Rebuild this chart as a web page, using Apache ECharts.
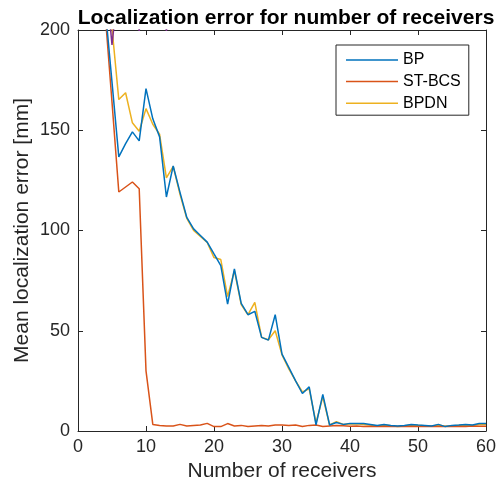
<!DOCTYPE html>
<html>
<head>
<meta charset="utf-8">
<script src="https://cdn.jsdelivr.net/npm/echarts@6/dist/echarts.min.js"></script>
<style>
  html, body { margin: 0; padding: 0; background: #fff; }
  #chart { width: 503px; height: 489px; }
</style>
</head>
<body>
<div id="chart"></div>
<script>
// Number of receivers (x values)
const receivers = [4, 5, 6, 7, 8, 9, 10, 11, 12, 13, 14, 15, 16, 17, 18, 19, 20,
  21, 22, 23, 24, 25, 26, 27, 28, 29, 30, 31, 32, 33, 34, 35, 36, 37, 38, 39, 40,
  41, 42, 43, 44, 45, 46, 47, 48, 49, 50, 51, 52, 53, 54, 55, 56, 57, 58, 59, 60];

// Mean localization error [mm] per method
const bp = [211, 174, 136.7, 143.3, 149.2, 144.7, 170.8, 155.7, 146.7, 116.7, 132.2, 119, 106.5, 100.8, 97.5, 94.2, 88.3,
  82.5, 63.3, 80.8, 63.7, 58, 59.7, 46.7, 45.3, 58, 38.3, 31.7, 25, 18.7, 22, 3, 18.3, 3, 4.2, 3.3, 3.8,
  3.8, 3.7, 3.3, 2.8, 3.3, 2.8, 2.5, 2.8, 3.3, 3, 2.8, 2.5, 3.3, 2.2, 2.8, 3, 3.3, 3, 3.7, 3.7];

const stbcs = [208, 164, 119.2, 121.7, 124.2, 120.8, 30, 3.3, 2.8, 2.5, 2.5, 3.3, 2.5, 2.8, 3, 3.8, 2.2,
  2.2, 3.7, 2.5, 2.8, 2.2, 2.5, 2.8, 2.5, 3, 3, 2.8, 3, 2.2, 2.8, 3, 2.2, 2.5, 2.8, 2.6, 2.4,
  2.5, 2.3, 2.4, 2.2, 2.4, 2.3, 2.2, 2.3, 2.4, 2.3, 2.2, 2.4, 2.3, 2.2, 2.3, 2.4, 2.3, 2.5, 2.4, 2.4];

const bpdn = [240, 201, 165.3, 168.7, 153.7, 149.5, 160.8, 153, 148, 126.3, 132, 118, 106, 100, 97, 94, 86.5,
  85.5, 67, 80, 63, 58, 64.2, 46.7, 45.5, 50, 38, 31, 25, 19.5, 21, 4, 17, 3, 4.7, 3.3, 3.5,
  3.6, 3.2, 3, 2.5, 3, 2.6, 2.3, 2.5, 3, 2.8, 2.6, 2.4, 3, 2.4, 2.6, 2.8, 3, 2.8, 3.2, 3.3];

// Fourth curve (not in legend), mostly above the visible range
const extraX = [4, 5, 6, 7, 8, 9, 10, 11, 12, 13, 14];
const extra = [230, 192.5, 225, 240, 230, 199.6, 230, 240, 230, 199.6, 230];

// Axis ticks
const xTicks = { min: 0, max: 60, interval: 10 };
const yTicks = { min: 0, max: 200, interval: 50 };

const legendNames = ['BP', 'ST-BCS', 'BPDN'];

const pair = (xs, ys) => xs.map((x, i) => [x, ys[i]]);

const FONT = "'Liberation Sans', Arial, Helvetica, sans-serif";
const AX = '#262626';

const chart = echarts.init(document.getElementById('chart'), null, { renderer: 'canvas' });

const axisCommon = {
  axisLine: { show: true, onZero: false, lineStyle: { color: AX, width: 1 } },
  axisTick: { show: true, inside: true, length: 5, lineStyle: { color: AX, width: 1 } },
  splitLine: { show: false },
};

chart.setOption({
  animation: false,
  backgroundColor: '#fff',
  title: {
    text: 'Localization error for number of receivers',
    left: 281,
    top: 3,
    textAlign: 'center',
    textStyle: { fontFamily: FONT, fontSize: 21, fontWeight: 'bold', color: '#000' }
  },
  grid: { left: 78, right: 17, top: 30, bottom: 58, containLabel: false },
  legend: {
    data: legendNames,
    orient: 'vertical',
    left: 336,
    top: 45,
    icon: 'rect',
    itemWidth: 52,
    itemHeight: 1.5,
    itemGap: 3.6,
    padding: [6, 8, 3, 10],
    borderColor: AX,
    borderWidth: 1,
    backgroundColor: '#fff',
    textStyle: { fontFamily: FONT, fontSize: 16, color: '#000', lineHeight: 18 }
  },
  xAxis: [
    Object.assign({
      type: 'value', min: xTicks.min, max: xTicks.max, interval: xTicks.interval,
      name: 'Number of receivers', nameLocation: 'middle', nameGap: 30,
      nameTextStyle: { fontFamily: FONT, fontSize: 21, color: AX },
      axisLabel: { fontFamily: FONT, fontSize: 18, color: AX, margin: 7 }
    }, axisCommon),
    Object.assign({
      type: 'value', position: 'top', min: xTicks.min, max: xTicks.max, interval: xTicks.interval,
      axisLabel: { show: false }
    }, axisCommon)
  ],
  yAxis: [
    Object.assign({
      type: 'value', min: yTicks.min, max: yTicks.max, interval: yTicks.interval,
      name: 'Mean localization error [mm]', nameLocation: 'middle', nameGap: 45,
      nameMoveOverlap: false,
      nameTextStyle: { fontFamily: FONT, fontSize: 21, color: AX },
      axisLabel: { fontFamily: FONT, fontSize: 18, color: AX, margin: 8 }
    }, axisCommon),
    Object.assign({
      type: 'value', position: 'right', min: yTicks.min, max: yTicks.max, interval: yTicks.interval,
      axisLabel: { show: false }
    }, axisCommon)
  ],
  series: [
    {
      name: 'BPDN', type: 'line', data: pair(receivers, bpdn), showSymbol: false, clip: true, z: 2,
      lineStyle: { color: '#EDB120', width: 1.5 }, itemStyle: { color: '#EDB120' }
    },
    {
      name: 'ST-BCS', type: 'line', data: pair(receivers, stbcs), showSymbol: false, clip: true, z: 3,
      lineStyle: { color: '#D95319', width: 1.5 }, itemStyle: { color: '#D95319' }
    },
    {
      name: 'BP', type: 'line', data: pair(receivers, bp), showSymbol: false, clip: true, z: 4,
      lineStyle: { color: '#0072BD', width: 1.5 }, itemStyle: { color: '#0072BD' }
    },
    {
      name: 'extra', type: 'line', data: pair(extraX, extra), showSymbol: false, clip: true, z: 5,
      lineStyle: { color: '#7E2F8E', width: 1.5 }, itemStyle: { color: '#7E2F8E' }
    }
  ]
});
</script>
</body>
</html>
